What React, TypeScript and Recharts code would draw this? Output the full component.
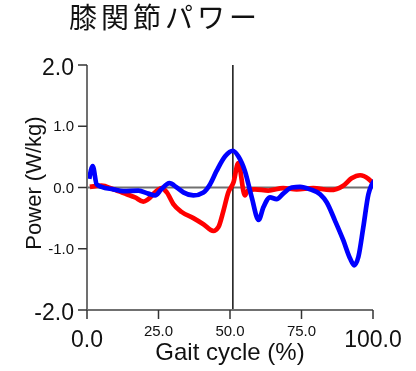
import React from 'react';
import { Label, Line, LineChart, ReferenceLine, XAxis, YAxis } from 'recharts';

// gait cycle (%) sample points and knee power (W/kg)
const redX = [1, 5.1, 9.2, 13.9, 16.8, 19.7, 21.4, 23.8, 26.1, 27.9, 30.2, 33.1, 37.2, 40.7, 44.2, 45.9, 47.7, 49.4, 51.2, 52.9, 55.2, 56.4, 58.7, 63.4, 68.6, 73.3, 79.1, 85, 89.6, 92.5, 95.5, 98.4, 100.7];
const redY = [0.01, 0.03, -0.03, -0.11, -0.16, -0.23, -0.19, -0.08, -0.01, -0.08, -0.27, -0.4, -0.5, -0.6, -0.71, -0.65, -0.38, -0.08, 0.08, 0.4, -0.13, -0.04, -0.03, -0.05, -0.01, -0.03, -0.01, -0.04, 0.03, 0.15, 0.2, 0.14, 0.03];

const blueX = [0.8, 2, 3.4, 5.1, 9.2, 12.7, 18, 21.4, 23.8, 26, 28.8, 31.4, 33.7, 37.2, 40.7, 43, 45.3, 48.3, 51, 52.9, 55.2, 57.6, 60, 61.7, 64, 66.3, 68.6, 71.6, 74.5, 78, 81.5, 83.8, 86.7, 89.6, 92, 93.4, 94.9, 96.6, 98.4, 100.7];
const blueY = [0.14, 0.35, 0.05, 0.01, -0.03, -0.06, -0.05, -0.1, -0.13, -0.03, 0.07, 0, -0.08, -0.13, -0.08, 0.05, 0.27, 0.51, 0.6, 0.51, 0.27, -0.16, -0.53, -0.32, -0.16, -0.19, -0.1, 0, 0.01, -0.03, -0.11, -0.24, -0.54, -0.86, -1.16, -1.27, -1.13, -0.65, -0.11, 0.12];

const xTicks = [0, 25, 50, 75, 100];
const yTicks = [-2, -1, 0, 1, 2];
const footStrike = 51;

const redData = redX.map((x, i) => ({ x, y: redY[i] }));
const blueData = blueX.map((x, i) => ({ x, y: blueY[i] }));

const FONT = '"Liberation Sans", Arial, sans-serif';

const XTick = ({ x, y, payload }: any) => {
    const big = payload.value === 0 || payload.value === 100;
    return (
        <text x={x} y={big ? y + 26 : y + 15} textAnchor="middle" fontFamily={FONT} fontSize={big ? 23 : 15} fill="#111">
            {payload.value.toFixed(1)}
        </text>
    );
};

const YTick = ({ x, y, payload }: any) => {
    const big = payload.value === 2 || payload.value === -2;
    return (
        <text x={x - 2} y={big ? y + 10 : y + 5} textAnchor="end" fontFamily={FONT} fontSize={big ? 23 : 15} fill="#111">
            {payload.value.toFixed(1)}
        </text>
    );
};

export default function App() {
    return (
        <div style={{ position: 'fixed', left: 0, top: 0, width: 416, height: 371, background: '#fff' }}>
            <svg width={416} height={40} style={{ position: 'absolute', left: 0, top: 0, overflow: 'visible' }}>
                <text
                    x={165}
                    y={28}
                    textAnchor="middle"
                    fontFamily='"Noto Sans CJK JP", sans-serif'
                    fontSize={28}
                    letterSpacing={4}
                    fill="#111"
                >
                    膝関節パワー
                </text>
            </svg>
            <LineChart width={416} height={371} margin={{ top: 65, right: 43, bottom: 0, left: 0 }}>
                <XAxis
                    type="number"
                    dataKey="x"
                    domain={[0, 100]}
                    ticks={xTicks}
                    height={61}
                    tickSize={9}
                    tick={<XTick />}
                    stroke="#707070"
                    strokeWidth={2}
                    tickLine={{ stroke: '#333', strokeWidth: 1.5 }}
                    allowDataOverflow
                >
                    <Label
                        content={() => (
                            <text x={230} y={360} textAnchor="middle" fontFamily={FONT} fontSize={24} fill="#111">
                                Gait cycle (%)
                            </text>
                        )}
                    />
                </XAxis>
                <YAxis
                    type="number"
                    dataKey="y"
                    domain={[-2, 2]}
                    ticks={yTicks}
                    width={87}
                    tickSize={9}
                    tick={<YTick />}
                    stroke="#707070"
                    strokeWidth={2}
                    tickLine={{ stroke: '#333', strokeWidth: 1.5 }}
                >
                    <Label
                        content={() => (
                            <text
                                x={41}
                                y={183}
                                transform="rotate(-90, 41, 183)"
                                textAnchor="middle"
                                fontFamily={FONT}
                                fontSize={22}
                                fill="#111"
                            >
                                Power (W/kg)
                            </text>
                        )}
                    />
                </YAxis>
                <ReferenceLine y={0} stroke="#707070" strokeWidth={2} />
                <ReferenceLine x={footStrike} stroke="#111" strokeWidth={1.5} />
                <Line data={redData} dataKey="y" type="monotone" stroke="#ff0000" strokeWidth={4.7} dot={false} isAnimationActive={false} />
                <Line data={blueData} dataKey="y" type="monotone" stroke="#0000ff" strokeWidth={4.7} dot={false} isAnimationActive={false} />
            </LineChart>
        </div>
    );
}
